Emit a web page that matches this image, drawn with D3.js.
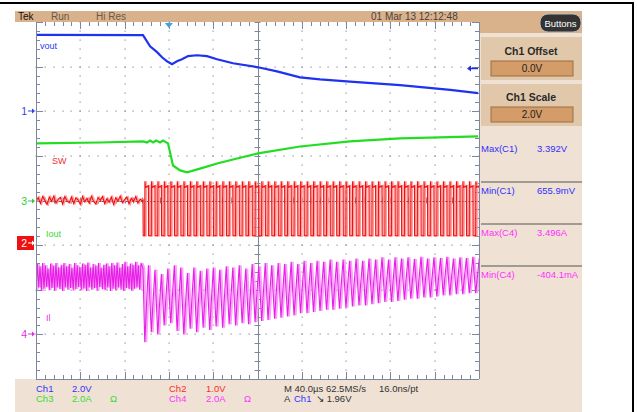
<!DOCTYPE html>
<meta charset="utf-8">
<style>
body { margin: 0; background: white; }
svg { display: block; font-family: "Liberation Sans", Arial, sans-serif; }
</style>
<body>
<svg width="637" height="412"></svg>
<script src="https://d3js.org/d3.v7.min.js"></script>
<script>

// ---- values (time in us, trigger at t = 0) ----

// Ch1 vout, volts
var voutT = [-120, -23.4, -17.0, -10.7, -6.2, -1.7, 2.8, 7.3, 11.8, 17.3, 25.4, 34.4, 43.5, 57.9, 80.5, 97.6, 118.4, 136.5, 163.6, 208.7, 254, 279.2];
var voutV = [3.42, 3.41, 2.91, 2.65, 2.42, 2.24, 2.11, 2.24, 2.33, 2.47, 2.51, 2.47, 2.33, 2.15, 1.97, 1.79, 1.52, 1.43, 1.33, 1.17, 0.96, 0.81];

// Ch3 Iout, amps
var ioutT = [-120, -62, -23.4, -19.8, -17, -14.3, -11.6, -8, -5.3, -0.8, 3.7, 10.1, 16.4, 28.1, 43.5, 57.9, 80.5, 118.4, 163.6, 208.7, 279.2];
var ioutA = [2.56, 2.6, 2.65, 2.6, 2.69, 2.6, 2.69, 2.6, 2.69, 2.56, 1.57, 1.35, 1.26, 1.43, 1.66, 1.84, 2.11, 2.42, 2.65, 2.78, 2.87];

// Ch2 SW before the load step (one sample every 2 us from -120)
var swPre = [0.92, 1.02, 0.88, 1.04, 0.95, 0.86, 1.03, 0.93, 1.05, 0.89, 0.98, 1.02, 0.87, 1.04, 0.94, 0.9,
             1.03, 0.88, 1.01, 0.96, 0.86, 1.04, 0.92, 1.0, 0.89, 1.05, 0.93, 0.87, 1.02, 0.95, 1.04, 0.88,
             0.99, 0.91, 1.03, 0.86, 1.01, 0.94, 1.05, 0.9, 0.97, 1.03, 0.87, 1.0, 0.93, 1.04, 0.89, 0.98, 0.94];
// SW rising edges after the step, and the pulse levels
var swRise = [-21.8, -15.9, -10.1, -4.3, 1.6, 7.4, 13.4, 19.2, 25.0, 30.9, 36.8, 42.6, 48.5, 54.4, 60.2, 66.1,
              71.9, 77.8, 83.7, 89.5, 95.4, 101.2, 107.1, 113.0, 118.8, 124.7, 130.5, 136.4, 142.3, 148.1, 154.0,
              159.8, 165.7, 171.6, 177.4, 183.3, 189.1, 195.0, 200.9, 206.7, 212.6, 218.4, 224.3, 230.2, 236.0,
              241.9, 247.7, 253.6, 259.5, 265.3, 271.2, 277.0];
var swHighTime = 3.3;
var swLow = 0.16, swHigh = 1.24, swSpike = 1.38, swStep = -23.4;

// Ch4 IL before the step (one cycle every 2.4 us from -120)
var ilPreHi = [3.15, 3.05, 3.2, 3.1, 2.95, 3.18, 3.08, 3.2, 3.0, 3.12, 3.2, 3.05, 3.15, 2.98, 3.2, 3.1, 3.02, 3.18, 3.12, 3.22,
               3.0, 3.15, 3.08, 3.2, 2.98, 3.12, 3.18, 3.05, 3.2, 3.1, 3.22, 3.0, 3.15, 3.25, 3.05, 3.18, 3.12, 3.25, 3.1, 3.2];
var ilPreLo = [2.0, 2.1, 1.95, 2.05, 2.12, 1.98, 2.08, 1.96, 2.1, 2.02, 1.95, 2.1, 2.0, 2.08, 1.97, 2.04, 2.12, 1.98, 2.06, 1.95,
               2.1, 2.0, 2.08, 1.96, 2.12, 2.02, 1.98, 2.1, 1.95, 2.05, 1.98, 2.1, 2.0, 1.95, 2.08, 2.02, 1.96, 2.05, 2.1, 2.0];
// IL valley (at each SW rise) and peak (at each SW fall) after the step
var ilValley = [-0.35, 0.1, 0.0, 0.4, 0.5, 0.15, 0.0, 0.25, 0.1, 0.3, 0.2, 0.35, 0.3, 0.45, 0.4, 0.5, 0.45, 0.55, 0.6, 0.65,
                0.7, 0.75, 0.8, 0.85, 0.95, 0.95, 1.0, 1.05, 1.1, 1.1, 1.15, 1.2, 1.25, 1.3, 1.3, 1.35, 1.4, 1.45, 1.45, 1.5,
                1.55, 1.6, 1.6, 1.65, 1.65, 1.7, 1.75, 1.75, 1.8, 1.8, 1.85, 1.85];
var ilPeak = [3.1, 2.9, 2.7, 2.95, 3.1, 3.0, 2.75, 3.0, 2.85, 2.95, 3.0, 2.9, 3.05, 3.0, 3.1, 2.95, 3.15, 3.05, 3.2, 3.1,
              3.2, 3.15, 3.25, 3.15, 3.3, 3.2, 3.3, 3.25, 3.35, 3.25, 3.35, 3.3, 3.4, 3.3, 3.4, 3.35, 3.45, 3.35, 3.45, 3.4,
              3.45, 3.38, 3.48, 3.4, 3.45, 3.42, 3.48, 3.4, 3.45, 3.42, 3.48, 3.42];

var trigLevel = 1.96;
var measures = [["Max(C1)", "3.392V", "#3030ff"], ["Min(C1)", "655.9mV", "#3030ff"],
                ["Max(C4)", "3.496A", "#ff30ff"], ["Min(C4)", "-404.1mA", "#ff30ff"]];

// ---- layout ----
var L = 36, R = 479, T = 22, B = 379;
var svg = d3.select("svg");

var x = d3.scaleLinear().domain([-120, 280]).range([L, R]);
var dv = d3.scaleLinear().domain([-4, 4]).range([B, T]);
var y1 = d3.scaleLinear().domain([-12, 4]).range([B, T]);      // 2 V/div
var y2 = d3.scaleLinear().domain([-3.05, 4.95]).range([B, T]); // 1 V/div
var y3 = d3.scaleLinear().domain([-8, 8]).range([B, T]);       // 2 A/div
var y4 = d3.scaleLinear().domain([-2, 14]).range([B, T]);      // 2 A/div

// outer frame
svg.append("line").attr("x1", 0).attr("x2", 634).attr("y1", 3).attr("y2", 3).attr("stroke", "#000").attr("stroke-width", 2);
svg.append("line").attr("x1", 633).attr("x2", 633).attr("y1", 3).attr("y2", 412).attr("stroke", "#000").attr("stroke-width", 2);

// panels
svg.append("rect").attr("x", 15).attr("y", 11).attr("width", 567).attr("height", 11).attr("fill", "#d9b28c");
svg.append("rect").attr("x", R).attr("y", T).attr("width", 582 - R).attr("height", B - T).attr("fill", "#efe1d3");
svg.append("rect").attr("x", R).attr("y", 22).attr("width", 582 - R).attr("height", 11).attr("fill", "#d9b28c");
svg.append("rect").attr("x", 15).attr("y", B).attr("width", 567).attr("height", 412 - B).attr("fill", "#efe1d3");
svg.append("rect").attr("x", R + 2).attr("y", 37).attr("width", 582 - R - 2).attr("height", 43).attr("fill", "#e2c8ab");
svg.append("rect").attr("x", R + 2).attr("y", 84).attr("width", 582 - R - 2).attr("height", 42).attr("fill", "#e2c8ab");
[[61, "0.0V"], [107, "2.0V"]].forEach(function(b) {
  svg.append("rect").attr("x", 491).attr("y", b[0]).attr("width", 82).attr("height", 15)
    .attr("fill", "#d49c68").attr("stroke", "#9c6c44").attr("stroke-width", 1);
  svg.append("text").attr("x", 532).attr("y", b[0] + 11).attr("text-anchor", "middle")
    .attr("font-size", 10).attr("fill", "#222").text(b[1]);
});
svg.append("text").attr("x", 531).attr("y", 55).attr("text-anchor", "middle").attr("font-size", 10.5)
  .attr("font-weight", "bold").attr("fill", "#2a2a2a").text("Ch1 Offset");
svg.append("text").attr("x", 531).attr("y", 101).attr("text-anchor", "middle").attr("font-size", 10.5)
  .attr("font-weight", "bold").attr("fill", "#2a2a2a").text("Ch1 Scale");

// Buttons pill
svg.append("rect").attr("x", 540).attr("y", 14).attr("width", 41).attr("height", 18).attr("rx", 8)
  .attr("fill", "#333").attr("stroke", "#bbb").attr("stroke-width", 1);
svg.append("text").attr("x", 560.5).attr("y", 27).attr("text-anchor", "middle").attr("font-size", 9.5)
  .attr("fill", "#fff").text("Buttons");

// top bar text
svg.append("text").attr("x", 18).attr("y", 20).attr("font-size", 10).attr("fill", "#111").text("Tek");
svg.append("text").attr("x", 51).attr("y", 20).attr("font-size", 10).attr("fill", "#6a5848").text("Run");
svg.append("text").attr("x", 96).attr("y", 20).attr("font-size", 10).attr("fill", "#6a5848").text("Hi Res");
svg.append("text").attr("x", 371).attr("y", 20).attr("font-size", 10).attr("fill", "#4a4038").text("01 Mar 13 12:12:48");

// measurements
measures.forEach(function(m, i) {
  var yy = 152 + i * 42;
  svg.append("text").attr("x", 481).attr("y", yy).attr("font-size", 9.5).attr("fill", m[2]).text(m[0]);
  svg.append("text").attr("x", 537).attr("y", yy).attr("font-size", 9.5).attr("fill", m[2]).text(m[1]);
  if (i > 0) svg.append("line").attr("x1", 481).attr("x2", 582).attr("y1", yy - 12).attr("y2", yy - 12)
    .attr("stroke", "#555").attr("stroke-width", 1);
});

// ---- graticule ----
var grid = svg.append("g");
var xMaj = d3.range(-120, 281, 40), xMin = d3.range(-120, 281, 8);
var dMaj = d3.range(-4, 4.01, 1), dMin = d3.range(-4, 4.01, 0.2);
var dots = [];
xMaj.slice(1, -1).forEach(function(t) { if (t != 80) dMin.forEach(function(d) { dots.push([x(t), dv(d)]); }); });
dMaj.slice(1, -1).forEach(function(d) { if (d != 0) xMin.forEach(function(t) { dots.push([x(t), dv(d)]); }); });
grid.selectAll(".dot").data(dots).enter().append("rect")
  .attr("x", function(d) { return Math.round(d[0]) - 0.5; })
  .attr("y", function(d) { return Math.round(d[1]) - 0.5; })
  .attr("width", 1.2).attr("height", 1.2).attr("fill", "#8a8e9c");

var gc = "#7f879c";
function isMajX(t) { return Math.abs((t + 120) % 40) < 1e-6; }
function isMajD(d) { return Math.abs(d - Math.round(d)) < 1e-6; }
xMin.forEach(function(t) {
  var len = isMajX(t) ? 7 : 4, xx = Math.round(x(t)) + 0.5;
  grid.append("line").attr("x1", xx).attr("x2", xx).attr("y1", T).attr("y2", T + len).attr("stroke", gc);
  grid.append("line").attr("x1", xx).attr("x2", xx).attr("y1", B - len).attr("y2", B).attr("stroke", gc);
  grid.append("line").attr("x1", xx).attr("x2", xx).attr("y1", dv(0) - 3).attr("y2", dv(0) + 3).attr("stroke", gc);
});
dMin.forEach(function(d) {
  var len = isMajD(d) ? 7 : 4, yy = Math.round(dv(d)) + 0.5;
  grid.append("line").attr("x1", L).attr("x2", L + len).attr("y1", yy).attr("y2", yy).attr("stroke", gc);
  grid.append("line").attr("x1", R - len).attr("x2", R).attr("y1", yy).attr("y2", yy).attr("stroke", gc);
  grid.append("line").attr("x1", x(80) - 3).attr("x2", x(80) + 3).attr("y1", yy).attr("y2", yy).attr("stroke", gc);
});
grid.append("line").attr("x1", L + 0.5).attr("x2", L + 0.5).attr("y1", T).attr("y2", B).attr("stroke", gc);
grid.append("line").attr("x1", R + 0.5).attr("x2", R + 0.5).attr("y1", T).attr("y2", B).attr("stroke", gc);
grid.append("line").attr("x1", L).attr("x2", R).attr("y1", B + 0.5).attr("y2", B + 0.5).attr("stroke", gc);
grid.append("line").attr("x1", Math.round(x(80)) + 0.5).attr("x2", Math.round(x(80)) + 0.5).attr("y1", T).attr("y2", B).attr("stroke", gc);
grid.append("line").attr("x1", L).attr("x2", R).attr("y1", Math.round(dv(0)) + 0.5).attr("y2", Math.round(dv(0)) + 0.5).attr("stroke", "#66686e");

// ---- traces ----
svg.append("clipPath").attr("id", "plot").append("rect").attr("x", L + 1).attr("y", T).attr("width", R - L - 1).attr("height", B - T);
var tr = svg.append("g").attr("clip-path", "url(#plot)");

// SW
var swPts = swPre.map(function(v, i) { return [-120 + 2 * i, v]; });
swPts.push([swStep, 0.96], [swStep + 0.2, swLow]);
swRise.forEach(function(r) {
  swPts.push([r, swLow], [r + 0.15, swSpike], [r + 0.6, swHigh], [r + swHighTime, swHigh + 0.04], [r + swHighTime + 0.15, swLow]);
});
var swLine = d3.line().x(function(d) { return x(d[0]); }).y(function(d) { return y2(d[1]); });
tr.append("path").datum(swPts).attr("d", swLine).attr("transform", "translate(1.3,0)")
  .attr("fill", "none").attr("stroke", "#ff9c9c").attr("stroke-width", 1.6);
tr.append("path").datum(swPts).attr("d", swLine).attr("fill", "none").attr("stroke", "#f01010").attr("stroke-width", 1.1);

// IL
var ilPts = [];
ilPreLo.forEach(function(v, i) { ilPts.push([-120 + 2.4 * i, v], [-118.8 + 2.4 * i, ilPreHi[i]]); });
ilPts.push([swStep, 2.95]);
swRise.forEach(function(r, i) { ilPts.push([r, ilValley[i]], [r + swHighTime, ilPeak[i]]); });
var ilLine = d3.line().x(function(d) { return x(d[0]); }).y(function(d) { return y4(d[1]); });
tr.append("path").datum(ilPts).attr("d", ilLine).attr("transform", "translate(1.5,0)")
  .attr("fill", "none").attr("stroke", "#f7a4f7").attr("stroke-width", 2);
tr.append("path").datum(ilPts).attr("d", ilLine).attr("fill", "none").attr("stroke", "#e81ee8").attr("stroke-width", 1.1);

// Iout
tr.append("path").datum(ioutT.map(function(t, i) { return [t, ioutA[i]]; }))
  .attr("d", d3.line().x(function(d) { return x(d[0]); }).y(function(d) { return y3(d[1]); }))
  .attr("fill", "none").attr("stroke", "#22dd22").attr("stroke-width", 2.2);

// vout
tr.append("path").datum(voutT.map(function(t, i) { return [t, voutV[i]]; }))
  .attr("d", d3.line().x(function(d) { return x(d[0]); }).y(function(d) { return y1(d[1]); }))
  .attr("fill", "none").attr("stroke", "#1e32f0").attr("stroke-width", 2.2);

// trace labels
svg.append("text").attr("x", 40).attr("y", 49).attr("font-size", 9).attr("fill", "#2a3cf0").text("vout");
svg.append("text").attr("x", 52).attr("y", 164).attr("font-size", 9).attr("fill", "#f03030").text("SW");
svg.append("text").attr("x", 46).attr("y", 237).attr("font-size", 9).attr("fill", "#30dd30").text("Iout");
svg.append("text").attr("x", 46).attr("y", 321).attr("font-size", 9).attr("fill", "#e830e8").text("Il");

// channel markers on the left
function marker(label, yy, col, boxed) {
  var g = svg.append("g");
  if (boxed) g.append("rect").attr("x", 17).attr("y", yy - 7).attr("width", 17).attr("height", 14).attr("fill", col);
  var c = boxed ? "#fff" : col;
  g.append("text").attr("x", 27).attr("y", yy + 4).attr("text-anchor", "end").attr("font-size", 10.5).attr("fill", c).text(label);
  g.append("line").attr("x1", 28).attr("x2", 34).attr("y1", yy).attr("y2", yy).attr("stroke", c).attr("stroke-width", 1);
  g.append("path").attr("d", "M" + 35 + "," + yy + "l-3,-2.5v5z").attr("fill", c);
}
marker("1", Math.round(y1(0)), "#3040f0", false);
marker("3", Math.round(y3(0)), "#30cc30", false);
marker("2", Math.round(y2(0)), "#ee1111", true);
marker("4", Math.round(y4(0)), "#e030e0", false);

// trigger position and level
svg.append("path").attr("d", "M" + (x(0) - 4) + "," + 23 + "h8l-4,5z").attr("fill", "#3aa4e6");
var ty = Math.round(y1(trigLevel)) + 0.5;
svg.append("line").attr("x1", 468).attr("x2", 478).attr("y1", ty).attr("y2", ty).attr("stroke", "#2030e0").attr("stroke-width", 1.5);
svg.append("path").attr("d", "M467," + ty + "l4,-3v6z").attr("fill", "#2030e0");

// ---- bottom readout ----
function txt(xx, yy, s, col) {
  return svg.append("text").attr("x", xx).attr("y", yy).attr("font-size", 9.5).attr("fill", col).text(s);
}
txt(36, 392, "Ch1", "#3333ff"); txt(72, 392, "2.0V", "#3333ff");
txt(36, 402, "Ch3", "#33dd33"); txt(72, 402, "2.0A", "#33dd33"); txt(110, 402, "\u03a9", "#33dd33");
txt(169, 392, "Ch2", "#ff2a2a"); txt(206, 392, "1.0V", "#ff2a2a");
txt(169, 402, "Ch4", "#ff33ff"); txt(206, 402, "2.0A", "#ff33ff"); txt(244, 402, "\u03a9", "#ff33ff");
txt(284, 392, "M 40.0\u00b5s 62.5MS/s", "#333");
txt(379, 392, "16.0ns/pt", "#333");
txt(284, 402, "A", "#333"); txt(294, 402, "Ch1", "#3333ff"); txt(316, 402, "\u2198 1.96V", "#333");

</script>
</body>
